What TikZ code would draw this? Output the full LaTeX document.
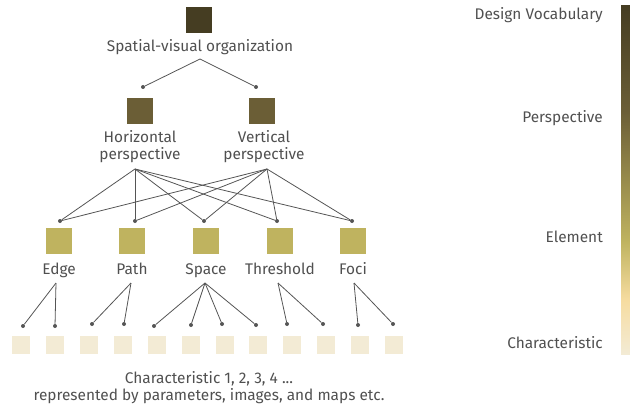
\documentclass[tikz,border=0pt]{standalone}
\usepackage{fontspec}
\setmainfont{Fira Sans}
\definecolor{cD}{HTML}{453D22}
\definecolor{cP}{HTML}{6B5E36}
\definecolor{cE}{HTML}{BFB35F}
\definecolor{cO}{HTML}{F6DCA0}
\definecolor{cC}{HTML}{F3EBD5}
\definecolor{txt}{HTML}{505050}
\definecolor{ln}{HTML}{555555}
% level scale: dark (top) to light (bottom); the path maps onto 25bp..75bp
\pgfdeclareverticalshading{levelbar}{100bp}{%
  color(0bp)=(cC); color(25bp)=(cC); color(32.8bp)=(cO); color(41.2bp)=(cE);
  color(59.9bp)=(cP); color(75bp)=(cD); color(100bp)=(cD)}
\begin{document}
\begin{tikzpicture}[x=1pt,y=-1pt,
  box/.style={minimum size=#1, inner sep=0pt, draw=none},
  lbl/.style={text=txt, inner sep=0pt, font=\fontsize{15.4}{17}\selectfont},
  link/.style={draw=ln, line width=0.8pt},
  dot/.style={circle, fill=ln, inner sep=0pt, minimum size=4pt}]
\useasboundingbox (0,0) rectangle (630,404);

% design vocabulary
\node[box=26pt, fill=cD] (top) at (199,20) {};
\node[lbl, anchor=base] (topl) at (200,52) {Spatial-visual organization};
\coordinate (topa) at (200,59);
\node[dot] (dh) at (143,87) {};
\node[dot] (dv) at (256,87) {};
\draw[link] (topa) -- (dh);
\draw[link] (topa) -- (dv);

% perspectives
\node[box=26pt, fill=cP] (hor) at (140,111) {};
\node[box=26pt, fill=cP] (ver) at (262,111) {};
\node[lbl, anchor=base, align=center] (horl) at (140,159) {Horizontal\\perspective};
\node[lbl, anchor=base, align=center] (verl) at (264,159) {Vertical\\perspective};
\coordinate (ha) at (135,169);
\coordinate (va) at (267,169);

% elements
\foreach \n/\x/\dx/\t in {edge/59/60/Edge, path/132/135/Path, space/206/204/Space,
                          thr/280/277/Threshold, foci/353/352/Foci} {
  \node[box=26pt, fill=cE] (\n) at (\x,241) {};
  \node[dot] (\n d) at (\dx,221) {};
  \node[lbl, anchor=base] (\n l) at (\x,274) {\t};
  \draw[link] (ha) -- (\n d);
  \draw[link] (va) -- (\n d);
}
\coordinate (edgea) at (56,283);
\coordinate (patha) at (131,283);
\coordinate (spacea) at (205,283);
\coordinate (thra) at (278,283);
\coordinate (focia) at (354,283);

% characteristics
\foreach \i/\x in {1/21,2/55,3/89,4/123,5/157,6/191,7/225,8/258,9/292,10/326,11/360,12/394}
  \node[box=18pt, fill=cC] (c\i) at (\x,345) {};
\foreach \i/\x/\y/\p in {1/23/326/edgea, 2/55/326/edgea, 3/92/324/patha, 4/124/324/patha,
    5/154/326/spacea, 6/191/325/spacea, 7/222/324/spacea, 8/256/325/spacea,
    9/287/324/thra, 10/323/324/thra, 11/358/325/focia, 12/393/324/focia} {
  \node[dot] (k\i) at (\x,\y) {};
  \draw[link] (\p) -- (k\i);
}
\node[lbl, anchor=base, align=center] (cl) at (209,400)
  {Characteristic 1, 2, 3, 4 ...\\represented by parameters, images, and maps etc.};

% level scale
\shade[shading=levelbar] (621,6) rectangle (630,354);
\node[lbl, anchor=base east] (s1) at (603,20) {Design Vocabulary};
\node[lbl, anchor=base east] (s2) at (603,122) {Perspective};
\node[lbl, anchor=base east] (s3) at (603,242) {Element};
\node[lbl, anchor=base east] (s4) at (603,348) {Characteristic};
\end{tikzpicture}
\end{document}
